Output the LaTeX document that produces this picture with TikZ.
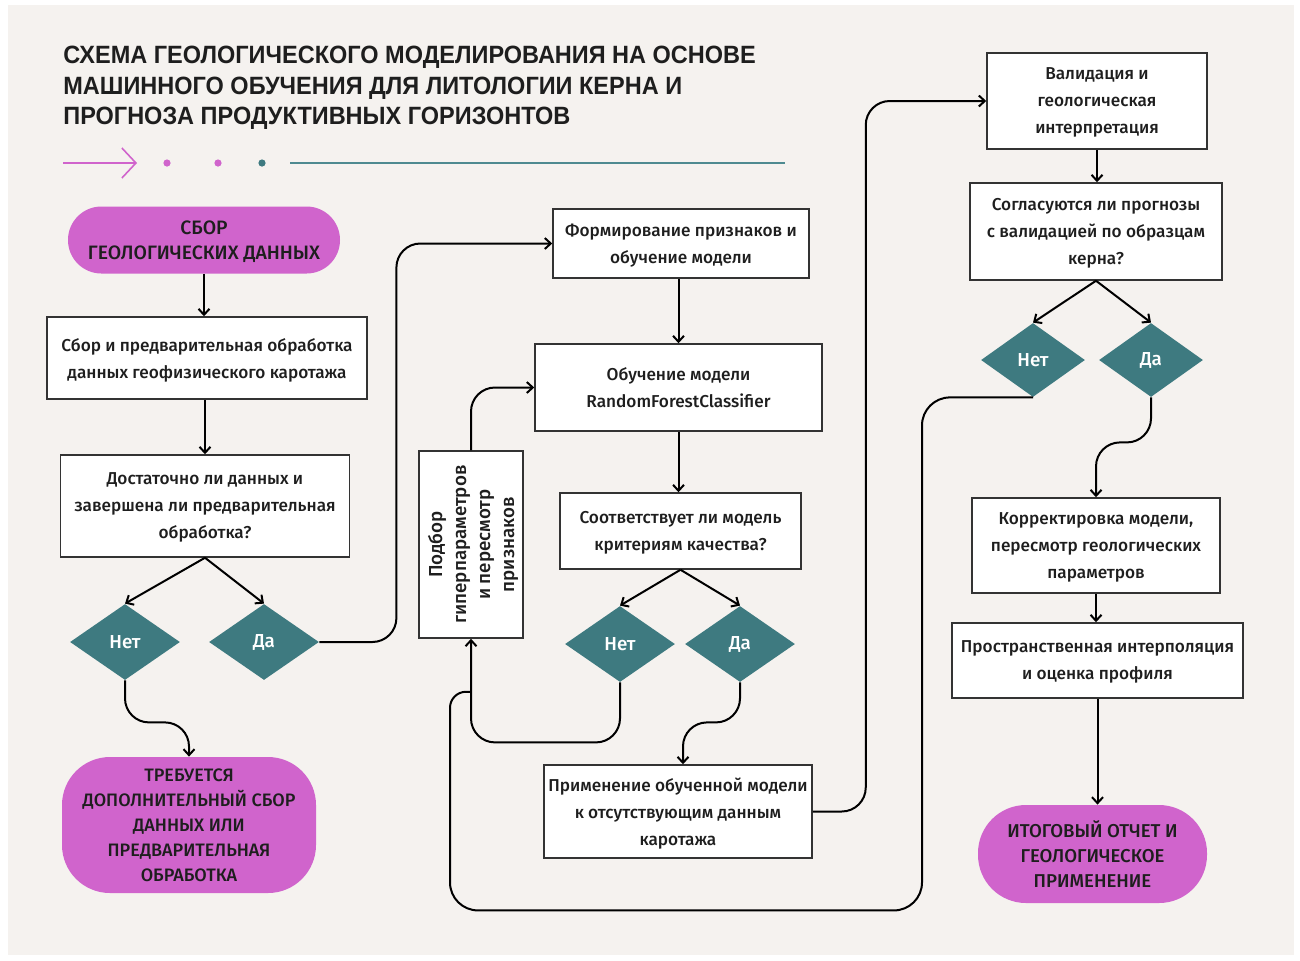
\documentclass[tikz,border=0pt]{standalone}
\usepackage{fontspec}
\setmainfont{Liberation Sans}
\newfontfamily\medfont{Fira Sans Medium}
\newfontfamily\titlefont[FakeStretch=0.94]{Liberation Sans Bold}
\usetikzlibrary{arrows.meta,positioning,shapes.geometric,calc}
\definecolor{pagebg}{HTML}{F5F2EF}
\definecolor{terminal}{HTML}{D064CC}
\definecolor{decision}{HTML}{3E7A80}
\definecolor{rulecol}{HTML}{4E8A90}
\definecolor{ink}{HTML}{1E1E1E}
\definecolor{edge}{HTML}{333333}
\tikzset{
  procbox/.style={draw=edge, fill=white, line width=0.75pt, align=center, inner sep=0pt,
    text=ink, text depth=-5pt, font=\medfont\fontsize{8.6}{13.5}\selectfont},
  termbox/.style={fill=terminal, align=center, inner sep=0pt, text=ink, text depth=-4pt,
    font=\medfont\fontsize{9}{12.5}\selectfont},
  choice/.style={diamond, fill=decision, text=white, inner sep=0pt,
    minimum width=55pt, minimum height=38pt, font=\medfont\fontsize{9.4}{10}\selectfont},
  arr/.style={-{Straight Barb[length=3pt,width=5.5pt]}, line width=1pt, draw=black},
  link/.style={arr, rounded corners=12pt},
  wire/.style={line width=1pt, draw=black, rounded corners=8pt}
}
\begin{document}
\begin{tikzpicture}[x=0.5pt,y=-0.5pt]
  \useasboundingbox (0,0) rectangle (1300,960);
  \fill[white] (0,0) rectangle (1300,960);
  \fill[pagebg] (8,5) rectangle (1294,955);

  % title and rule
  \node[anchor=north west, align=left, inner sep=0pt, text=ink,
    font=\titlefont\fontsize{12.5}{15.25}\selectfont] (title) at (63,46)
    {СХЕМА ГЕОЛОГИЧЕСКОГО МОДЕЛИРОВАНИЯ НА ОСНОВЕ\\
     МАШИННОГО ОБУЧЕНИЯ ДЛЯ ЛИТОЛОГИИ КЕРНА И\\
     ПРОГНОЗА ПРОДУКТИВНЫХ ГОРИЗОНТОВ};
  \draw[terminal, line width=0.8pt, -{Straight Barb[length=7pt,width=15pt]}] (63,163) -- (137,163);
  \fill[terminal] (167,163) circle (1.8pt) (218,163) circle (1.8pt);
  \fill[decision] (262,163) circle (1.8pt);
  \draw[rulecol, line width=1.2pt] (290,163) -- (785,163);

  % left column
  \node[termbox, minimum width=136pt, minimum height=33.5pt, rounded corners=16.7pt,
    font=\medfont\fontsize{9.7}{12.8}\selectfont]
    (collect) at (204,240) {СБОР\\ГЕОЛОГИЧЕСКИХ ДАННЫХ};
  \node[procbox, minimum width=160pt, minimum height=41pt] (logprep) at (207,358)
    {Сбор и предварительная обработка\\данных геофизического каротажа};
  \node[procbox, minimum width=144.5pt, minimum height=51pt] (enough) at (205,506)
    {Достаточно ли данных и\\завершена ли предварительная\\обработка?};
  \node[choice] (noA) at (125,642) {Нет};
  \node[choice] (yesA) at (264,642) {Да};
  \node[termbox, minimum width=127pt, minimum height=68pt, rounded corners=24pt]
    (more) at (189,825) {ТРЕБУЕТСЯ\\ДОПОЛНИТЕЛЬНЫЙ СБОР\\ДАННЫХ ИЛИ\\ПРЕДВАРИТЕЛЬНАЯ\\ОБРАБОТКА};

  % middle column
  \node[procbox, minimum width=128pt, minimum height=34.5pt] (feat) at (681,243.5)
    {Формирование признаков и\\обучение модели};
  \node[procbox, minimum width=143.5pt, minimum height=43.5pt] (train) at (678.5,387.5)
    {Обучение модели\\RandomForestClassifier};
  \node[procbox, minimum width=120.5pt, minimum height=38pt] (quality) at (680.5,531)
    {Соответствует ли модель\\критериям качества?};
  % rotated box: west = bottom, east = top
  \node[procbox, rotate=90, minimum width=93.5pt, minimum height=52pt, text depth=-4pt,
    font=\medfont\fontsize{9.4}{12}\selectfont] (tune) at (471,544.5)
    {Подбор\\гиперпараметров\\и пересмотр\\признаков};
  \node[choice] (noB) at (620,644) {Нет};
  \node[choice] (yesB) at (740,644) {Да};
  \node[procbox, minimum width=134pt, minimum height=46.5pt] (apply) at (678,811.5)
    {Применение обученной модели\\к отсутствующим данным\\каротажа};

  % right column
  \node[procbox, minimum width=110pt, minimum height=48pt] (valid) at (1097,101)
    {Валидация и\\геологическая\\интерпретация};
  \node[procbox, minimum width=126pt, minimum height=48.5pt] (agree) at (1096,231.5)
    {Согласуются ли прогнозы\\с валидацией по образцам\\керна?};
  \node[choice, minimum width=52pt, minimum height=37pt] (noC) at (1033,360) {Нет};
  \node[choice, minimum width=52pt, minimum height=37pt] (yesC) at (1151,360) {Да};
  \node[procbox, minimum width=124pt, minimum height=47.5pt] (corr) at (1096,545.5)
    {Корректировка модели,\\пересмотр геологических\\параметров};
  \node[procbox, minimum width=145.5pt, minimum height=37.5pt] (interp) at (1097.5,660.5)
    {Пространственная интерполяция\\и оценка профиля};
  \node[termbox, minimum width=114.5pt, minimum height=49pt, rounded corners=24pt,
    font=\medfont\fontsize{9.3}{12.5}\selectfont]
    (report) at (1092.5,854) {ИТОГОВЫЙ ОТЧЕТ И\\ГЕОЛОГИЧЕСКОЕ\\ПРИМЕНЕНИЕ};

  % connectors
  \draw[arr] (collect.south) -- (collect.south |- logprep.north);
  \draw[arr] (enough.north |- logprep.south) -- (enough.north);
  \draw[arr] (enough.south) -- (noA.north);
  \draw[arr] (enough.south) -- (yesA.north);
  \draw[link] (noA.south) -- ++(0,42) -| (more.north);
  \draw[link] (yesA.east) -- ++(77,0) |- (feat.west);
  \draw[arr] (feat.south -| train.north) -- (train.north);
  \draw[arr] (train.south) -- (train.south |- quality.north);
  \draw[arr] (quality.south) -- (noB.north);
  \draw[arr] (quality.south) -- (yesB.north);
  \draw[link] (noB.south) -- ++(0,60) -| (tune.west);
  \draw[link] (tune.east) |- (train.west);
  \draw[link] (yesB.south) -- ++(0,40) -| ($(apply.north)+(5,0)$);
  \draw[link] (apply.east) -- ++(53,0) |- (valid.west);
  \draw[arr] (valid.south) -- (valid.south |- agree.north);
  \draw[arr] (agree.south) -- (noC.north);
  \draw[arr] (agree.south) -- (yesC.north);
  \coordinate (merge) at ($(tune.west)+(0,53)$);
  \draw[wire, rounded corners=14pt] (noC.south) -- ++(-111,0) -- ++(0,513) -- ++(-472,0)
    [rounded corners=8pt] |- (merge);
  \draw[link] (yesC.south) -- ++(0,45) -| (corr.north);
  \draw[arr] (corr.south) -- (corr.south |- interp.north);
  \draw[arr] (interp.south) -- (interp.south |- report.north);
\end{tikzpicture}
\end{document}
